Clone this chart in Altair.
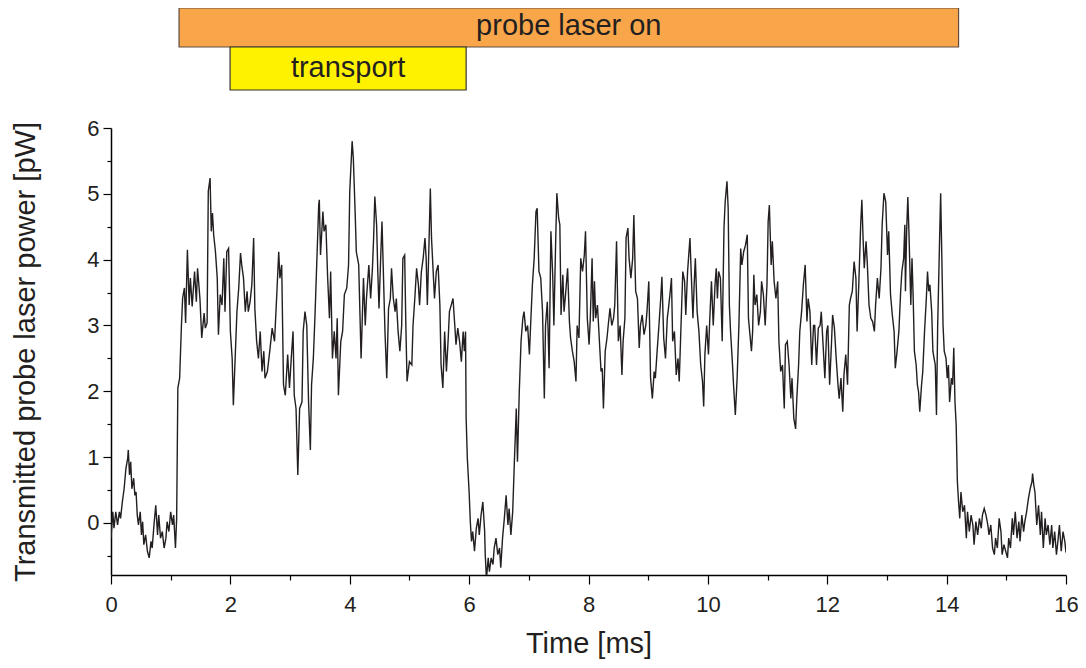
import altair as alt
import pandas as pd

# ---- transmitted probe power trace: (time [ms], power [pW]) ----
SEG_BEFORE = [
    (0.00, -0.23), (0.03, 0.17), (0.05, -0.08), (0.08, 0.17), (0.11, -0.03), (0.14, 0.17),
    (0.16, 0.07), (0.19, 0.32), (0.22, 0.52), (0.25, 0.83), (0.28, 0.98), (0.29, 1.11),
    (0.31, 0.73), (0.33, 0.93), (0.35, 0.52), (0.38, 0.68), (0.40, 0.42), (0.42, 0.47),
    (0.44, 0.12), (0.46, -0.03), (0.49, 0.17), (0.51, -0.18), (0.53, 0.02), (0.55, -0.33),
    (0.58, -0.18), (0.61, -0.43), (0.64, -0.53), (0.67, -0.28), (0.69, -0.38), (0.72, -0.03),
    (0.75, 0.27), (0.78, -0.18), (0.80, 0.12), (0.83, -0.23), (0.86, -0.13), (0.89, -0.38),
    (0.92, -0.23), (0.94, 0.02), (0.97, -0.13), (1.00, 0.17), (1.03, -0.03), (1.05, 0.12),
    (1.08, -0.38), (1.10, 0.07), (1.12, 2.05), (1.15, 2.20), (1.18, 3.00), (1.20, 3.41),
]
SEG_TRANSPORT_A = [
    (1.21, 3.47), (1.23, 3.57), (1.25, 3.04), (1.28, 4.15), (1.31, 3.31), (1.33, 3.72),
    (1.36, 3.29), (1.40, 3.82), (1.43, 3.36), (1.45, 3.87), (1.49, 3.41), (1.52, 2.81),
    (1.56, 3.19), (1.58, 2.96), (1.61, 3.04), (1.63, 5.04), (1.66, 5.24), (1.68, 4.43),
    (1.70, 4.71), (1.72, 4.38), (1.75, 4.12), (1.78, 3.72), (1.80, 2.86), (1.83, 3.47),
    (1.86, 3.31), (1.89, 4.02), (1.91, 3.21), (1.94, 4.12), (1.97, 4.17), (2.00, 2.91),
    (2.03, 2.50), (2.05, 1.79), (2.08, 2.50), (2.11, 3.21), (2.14, 3.57), (2.17, 4.10),
    (2.19, 3.92), (2.22, 3.72), (2.25, 3.21), (2.28, 3.52), (2.30, 3.21), (2.33, 3.36),
    (2.36, 3.62), (2.39, 4.33), (2.41, 3.26), (2.44, 2.76), (2.47, 2.50), (2.50, 2.91),
    (2.53, 2.30), (2.56, 2.61), (2.58, 2.20),
]
SEG_TRANSPORT_B = [
    (2.62, 2.30), (2.66, 2.61), (2.70, 2.96), (2.74, 2.76), (2.78, 3.52), (2.81, 4.12),
    (2.83, 3.72), (2.86, 3.92), (2.89, 2.10), (2.92, 1.94), (2.96, 2.56), (2.99, 2.05),
    (3.02, 2.50), (3.05, 2.91), (3.07, 1.94), (3.10, 1.74), (3.13, 0.73), (3.16, 1.74),
    (3.20, 1.84), (3.22, 2.91), (3.25, 3.21), (3.28, 3.00), (3.31, 1.84), (3.34, 1.11),
    (3.36, 2.10), (3.39, 2.50), (3.42, 3.21), (3.45, 4.02), (3.48, 4.83), (3.49, 4.91),
    (3.51, 4.07), (3.55, 4.73), (3.57, 4.43), (3.60, 4.53), (3.63, 3.72), (3.66, 3.11),
    (3.68, 3.82), (3.71, 2.50), (3.74, 2.91), (3.77, 2.50), (3.79, 3.11), (3.81, 1.94),
    (3.85, 2.76), (3.88, 2.91), (3.91, 3.47), (3.95, 3.57), (3.98, 3.92), (4.00, 5.04),
    (4.04, 5.80), (4.06, 5.54), (4.09, 4.73), (4.11, 4.12), (4.15, 3.92), (4.17, 3.21),
    (4.19, 2.50), (4.23, 3.72), (4.26, 3.00), (4.28, 3.41), (4.32, 3.92), (4.35, 3.41),
    (4.38, 3.87), (4.40, 4.33), (4.42, 4.96), (4.45, 4.53), (4.47, 3.82), (4.49, 3.26),
    (4.52, 4.07), (4.54, 4.58), (4.56, 3.92), (4.59, 2.91), (4.62, 2.20), (4.65, 3.26),
    (4.68, 3.41), (4.70, 3.87), (4.73, 3.41), (4.76, 3.21), (4.78, 3.41), (4.81, 2.91),
    (4.84, 2.61), (4.87, 3.00), (4.89, 4.02), (4.92, 4.07), (4.94, 3.00), (4.96, 2.15),
    (5.00, 2.45), (5.04, 2.40), (5.06, 3.00), (5.09, 3.41), (5.12, 3.87), (5.15, 3.62),
    (5.17, 3.31), (5.20, 3.82), (5.23, 4.02), (5.26, 4.33), (5.28, 4.02),
]
SEG_GAP = [
    (5.30, 3.31), (5.33, 4.33), (5.35, 5.08), (5.37, 4.33), (5.40, 3.77), (5.42, 3.41),
    (5.45, 3.82), (5.48, 3.92), (5.51, 3.31), (5.53, 2.40), (5.56, 2.05), (5.59, 2.91),
    (5.62, 2.30), (5.65, 2.81), (5.67, 3.21), (5.70, 3.31), (5.73, 3.41), (5.76, 3.00),
    (5.78, 2.71), (5.81, 2.96), (5.84, 2.76), (5.87, 2.45), (5.90, 2.91), (5.92, 2.61),
    (5.94, 2.91), (5.95, 1.59), (5.97, 0.98), (6.00, 0.47), (6.02, 0.02), (6.04, -0.28),
    (6.06, -0.13), (6.09, -0.43), (6.12, -0.08), (6.15, 0.07), (6.17, -0.18), (6.20, 0.12),
    (6.23, 0.32), (6.26, -0.13), (6.27, -0.48), (6.29, -0.85), (6.32, -0.53), (6.34, -0.74),
    (6.37, -0.53), (6.40, -0.63), (6.42, -0.38), (6.45, -0.23), (6.48, -0.48), (6.51, -0.38),
    (6.53, -0.68), (6.56, -0.23), (6.59, 0.07), (6.62, 0.42), (6.65, -0.03), (6.67, 0.22),
    (6.70, -0.18), (6.73, 0.17), (6.76, 0.98), (6.79, 1.74), (6.81, 0.93), (6.84, 1.99),
    (6.87, 2.76), (6.90, 3.11), (6.92, 3.21), (6.95, 2.91), (6.98, 3.00), (7.01, 2.56),
    (7.03, 3.00), (7.06, 3.62), (7.09, 4.02), (7.12, 4.73), (7.14, 4.78), (7.17, 3.82),
    (7.20, 3.72), (7.23, 3.21), (7.26, 1.89), (7.28, 3.00), (7.31, 3.36), (7.34, 2.35),
    (7.37, 4.43), (7.40, 3.77), (7.42, 3.00), (7.45, 4.28), (7.47, 5.01), (7.50, 4.63),
    (7.52, 4.53), (7.54, 3.16), (7.57, 3.77), (7.59, 3.21), (7.62, 3.52), (7.65, 3.87),
    (7.68, 3.06), (7.70, 2.81), (7.73, 2.61), (7.76, 2.45), (7.79, 2.15), (7.81, 3.00),
    (7.84, 2.81), (7.87, 4.02), (7.90, 3.82), (7.93, 4.07), (7.95, 4.43),
]
SEG_HOLD_A = [
    (7.98, 3.11), (8.01, 2.71), (8.03, 3.11), (8.06, 4.02), (8.08, 3.06), (8.10, 3.67),
    (8.12, 3.11), (8.15, 3.31), (8.18, 2.81), (8.21, 2.30), (8.23, 2.35), (8.25, 1.74),
    (8.28, 2.61), (8.31, 2.81), (8.33, 3.00), (8.36, 3.26), (8.39, 3.00), (8.42, 3.11),
    (8.44, 3.31), (8.47, 4.28), (8.50, 2.76), (8.53, 3.00), (8.56, 2.25), (8.58, 2.76),
    (8.61, 3.11), (8.63, 4.33), (8.66, 4.48), (8.68, 4.02), (8.71, 3.72), (8.74, 4.02),
    (8.76, 4.68), (8.79, 3.52), (8.82, 3.41), (8.85, 2.66), (8.87, 3.00), (8.90, 3.16),
    (8.93, 2.86), (8.96, 3.00), (8.98, 3.21), (9.01, 3.67), (9.04, 2.20), (9.07, 1.89),
    (9.10, 2.30), (9.12, 2.20), (9.15, 2.61), (9.18, 3.00), (9.21, 3.41), (9.23, 3.74),
    (9.26, 2.81), (9.29, 2.50), (9.32, 3.11), (9.34, 3.26), (9.37, 3.52), (9.39, 3.72),
    (9.41, 2.76), (9.44, 2.91), (9.47, 2.25), (9.50, 2.50), (9.52, 2.15), (9.55, 3.00),
    (9.58, 3.82), (9.61, 3.67), (9.63, 3.16), (9.66, 3.82), (9.70, 4.33), (9.72, 3.82),
    (9.75, 3.11), (9.77, 3.62), (9.79, 4.02), (9.82, 3.21), (9.85, 2.91), (9.88, 2.40),
    (9.91, 2.15), (9.93, 1.77), (9.95, 2.56), (9.98, 3.00), (10.01, 2.56), (10.03, 3.06),
    (10.06, 3.67), (10.09, 3.00), (10.12, 3.62), (10.14, 3.87), (10.16, 3.41), (10.18, 3.82),
    (10.21, 3.72), (10.24, 2.76), (10.27, 4.48), (10.29, 4.88), (10.32, 5.19), (10.34, 4.78),
    (10.36, 3.31), (10.38, 2.91), (10.41, 2.45), (10.43, 2.10), (10.46, 1.64), (10.49, 2.20),
    (10.52, 3.00), (10.55, 4.17), (10.57, 3.92), (10.60, 4.12), (10.63, 4.22), (10.66, 4.38),
]
SEG_HOLD_B = [
    (10.68, 3.11), (10.70, 2.91), (10.73, 2.61), (10.75, 2.91), (10.77, 3.77), (10.79, 3.31),
    (10.82, 3.47), (10.85, 3.00), (10.88, 3.21), (10.90, 3.67), (10.93, 3.47), (10.96, 3.00),
    (10.99, 3.62), (11.01, 4.58), (11.03, 4.83), (11.06, 3.92), (11.08, 4.28), (11.11, 3.67),
    (11.14, 3.41), (11.17, 3.67), (11.19, 2.76), (11.22, 2.30), (11.25, 2.40), (11.28, 1.74),
    (11.30, 2.71), (11.33, 2.76), (11.36, 2.40), (11.39, 1.89), (11.41, 2.20), (11.44, 1.59),
    (11.47, 1.43), (11.49, 1.89), (11.52, 2.40), (11.54, 2.91), (11.57, 3.21), (11.60, 3.62),
    (11.63, 3.92), (11.66, 3.06), (11.68, 3.41), (11.71, 3.21), (11.74, 2.40), (11.77, 3.00),
    (11.79, 3.00), (11.82, 2.40), (11.85, 2.96), (11.88, 3.00), (11.90, 3.21), (11.93, 2.71),
    (11.96, 2.20), (11.99, 2.91), (12.01, 3.00), (12.04, 2.10), (12.07, 2.71), (12.09, 3.16),
    (12.12, 2.96), (12.15, 2.50), (12.18, 2.10), (12.20, 1.89), (12.23, 2.20), (12.26, 1.69),
    (12.28, 2.25), (12.31, 2.56), (12.34, 2.10), (12.37, 3.31), (12.39, 3.41), (12.42, 3.52),
    (12.45, 3.97), (12.48, 3.72), (12.50, 2.91), (12.53, 3.67), (12.56, 4.53), (12.58, 4.91),
    (12.60, 4.33), (12.62, 3.87), (12.65, 4.28), (12.67, 3.97), (12.70, 3.31), (12.73, 3.11),
    (12.76, 3.06), (12.79, 2.91), (12.81, 3.31), (12.84, 3.72), (12.87, 3.41), (12.90, 3.87),
    (12.92, 4.53), (12.95, 5.01), (12.98, 4.88), (13.01, 4.07), (13.03, 4.43), (13.06, 3.47),
    (13.09, 3.16), (13.12, 2.91), (13.14, 2.35), (13.17, 2.61), (13.20, 2.91), (13.23, 3.52),
    (13.25, 3.82), (13.28, 4.02), (13.30, 4.53),
]
SEG_AFTER = [
    (13.31, 3.52), (13.33, 4.43), (13.35, 4.95), (13.37, 4.38), (13.40, 3.31), (13.42, 4.02),
    (13.44, 3.41), (13.46, 2.61), (13.49, 2.40), (13.51, 2.10), (13.53, 1.99), (13.55, 1.69),
    (13.58, 2.10), (13.60, 2.30), (13.63, 2.91), (13.66, 3.41), (13.68, 3.82), (13.70, 3.52),
    (13.72, 3.62), (13.75, 3.21), (13.77, 2.61), (13.79, 2.50), (13.81, 2.40), (13.83, 1.64),
    (13.85, 3.00), (13.88, 4.22), (13.90, 5.01), (13.92, 4.02), (13.94, 3.00), (13.96, 2.61),
    (13.99, 2.50), (14.01, 2.20), (14.03, 2.40), (14.05, 1.84), (14.08, 2.20), (14.10, 2.10),
    (14.12, 2.66), (14.14, 1.84), (14.16, 1.49), (14.18, 0.63), (14.20, 0.32), (14.22, 0.07),
    (14.24, 0.47), (14.27, 0.17), (14.30, 0.27), (14.33, -0.23), (14.35, 0.17), (14.38, -0.13),
    (14.41, 0.12), (14.44, -0.03), (14.46, -0.33), (14.49, 0.02), (14.52, -0.18), (14.55, 0.07),
    (14.58, -0.08), (14.60, 0.12), (14.63, 0.22), (14.66, 0.12), (14.69, -0.03), (14.71, -0.18),
    (14.74, -0.03), (14.77, -0.38), (14.80, -0.48), (14.82, -0.23), (14.85, -0.38), (14.88, 0.07),
    (14.91, -0.13), (14.93, -0.48), (14.96, -0.33), (14.99, -0.43), (15.02, -0.53), (15.04, -0.23),
    (15.07, -0.38), (15.10, 0.07), (15.12, -0.18), (15.15, 0.17), (15.18, -0.23), (15.21, 0.02),
    (15.23, -0.28), (15.26, 0.12), (15.29, -0.13), (15.31, 0.02), (15.34, 0.17), (15.37, 0.37),
    (15.40, 0.52), (15.43, 0.63), (15.44, 0.75), (15.46, 0.58), (15.48, 0.47), (15.51, -0.03),
    (15.54, 0.27), (15.57, -0.18), (15.59, 0.17), (15.62, -0.38), (15.65, 0.07), (15.67, -0.18),
    (15.70, -0.03), (15.73, -0.33), (15.76, -0.03), (15.78, -0.38), (15.81, -0.13), (15.84, -0.48),
    (15.87, -0.23), (15.89, -0.03), (15.92, -0.43), (15.95, -0.13), (15.98, -0.28), (16.00, -0.45),
]

# ---- timing bars above the plot ----
BAR_LABELS = ["probe laser on", "transport"]
BAR_START = [1.14, 1.995]
BAR_END = [14.2, 5.95]

# ---- axis ticks ----
X_MAJOR = [0, 2, 4, 6, 8, 10, 12, 14, 16]
X_MINOR = [1, 3, 5, 7, 9, 11, 13, 15]
Y_MAJOR = [0, 1, 2, 3, 4, 5, 6]
Y_MINOR = [-0.5, 0.5, 1.5, 2.5, 3.5, 4.5, 5.5]

trace = (SEG_BEFORE + SEG_TRANSPORT_A + SEG_TRANSPORT_B + SEG_GAP
         + SEG_HOLD_A + SEG_HOLD_B + SEG_AFTER)
df = pd.DataFrame({"t": [p[0] for p in trace], "p": [p[1] for p in trace]})
bars = pd.DataFrame({"label": BAR_LABELS, "start": BAR_START, "end": BAR_END})
bars["mid"] = (bars["start"] + bars["end"]) / 2

FONT = "Liberation Sans"
INK = "#231f20"

xscale = alt.Scale(domain=[0, 16], nice=False, zero=False)
yscale = alt.Scale(domain=[-0.79, 6], nice=False, zero=False)

common_axis = dict(
    grid=False, domainColor="black", domainWidth=1.5, tickColor="black", tickWidth=1.2,
    labelFont=FONT, labelFontSize=22, labelColor=INK, titleFont=FONT, titleFontSize=29,
    titleColor=INK, titleFontWeight="normal",
)

line = alt.Chart(df).mark_line(color=INK, strokeWidth=1.4, clip=True).encode(
    x=alt.X("t:Q", scale=xscale, axis=alt.Axis(
        orient="bottom", values=X_MAJOR, format="d", title="Time [ms]", tickSize=9,
        labelPadding=10, titlePadding=14, labelFlush=False, labelOverlap=False, **common_axis)),
    y=alt.Y("p:Q", scale=yscale, axis=alt.Axis(
        orient="left", values=Y_MAJOR, format="d", title="Transmitted probe laser power [pW]",
        tickSize=8, labelPadding=4, titlePadding=46, labelFlush=False, labelOverlap=False,
        **common_axis)),
)

minor = alt.Chart(df).mark_point(opacity=0, size=1).encode(
    x=alt.X("t:Q", scale=xscale, axis=alt.Axis(
        orient="bottom", values=X_MINOR, labels=False, title=None, tickSize=5, domain=False,
        grid=False, tickColor="black", tickWidth=1.2)),
    y=alt.Y("p:Q", scale=yscale, axis=alt.Axis(
        orient="left", values=Y_MINOR, labels=False, title=None, tickSize=4, domain=False,
        grid=False, tickColor="black", tickWidth=1.2)),
)

probe_bar = alt.Chart(bars).transform_filter(alt.datum.label == "probe laser on").mark_rect(
    fill="#F9A64B", stroke="#5f4e40", strokeWidth=1.2, clip=False
).encode(
    x=alt.X("start:Q", scale=xscale, axis=None), x2="end:Q",
    y=alt.value(-120), y2=alt.value(-81),
)
probe_text = alt.Chart(bars).transform_filter(alt.datum.label == "probe laser on").mark_text(
    font=FONT, fontSize=29, color=INK, baseline="middle", align="center", clip=False
).encode(x=alt.X("mid:Q", scale=xscale, axis=None), y=alt.value(-102), text="label:N")

transport_bar = alt.Chart(bars).transform_filter(alt.datum.label == "transport").mark_rect(
    fill="#FFF200", stroke="#333333", strokeWidth=1.2, clip=False
).encode(
    x=alt.X("start:Q", scale=xscale, axis=None), x2="end:Q",
    y=alt.value(-81), y2=alt.value(-38),
)
transport_text = alt.Chart(bars).transform_filter(alt.datum.label == "transport").mark_text(
    font=FONT, fontSize=29, color=INK, baseline="middle", align="center", clip=False
).encode(x=alt.X("mid:Q", scale=xscale, axis=None), y=alt.value(-60), text="label:N")

chart = alt.layer(
    line, minor, probe_bar, transport_bar, probe_text, transport_text
).resolve_axis(x="independent", y="independent").properties(
    width=955, height=447,
    autosize=alt.AutoSizeParams(type="none"),
    padding={"left": 103, "top": 120, "right": 12, "bottom": 93},
    background="white",
).configure_view(stroke=None)

chart.save("out.html", embed_options={"renderer": "svg", "actions": False})
